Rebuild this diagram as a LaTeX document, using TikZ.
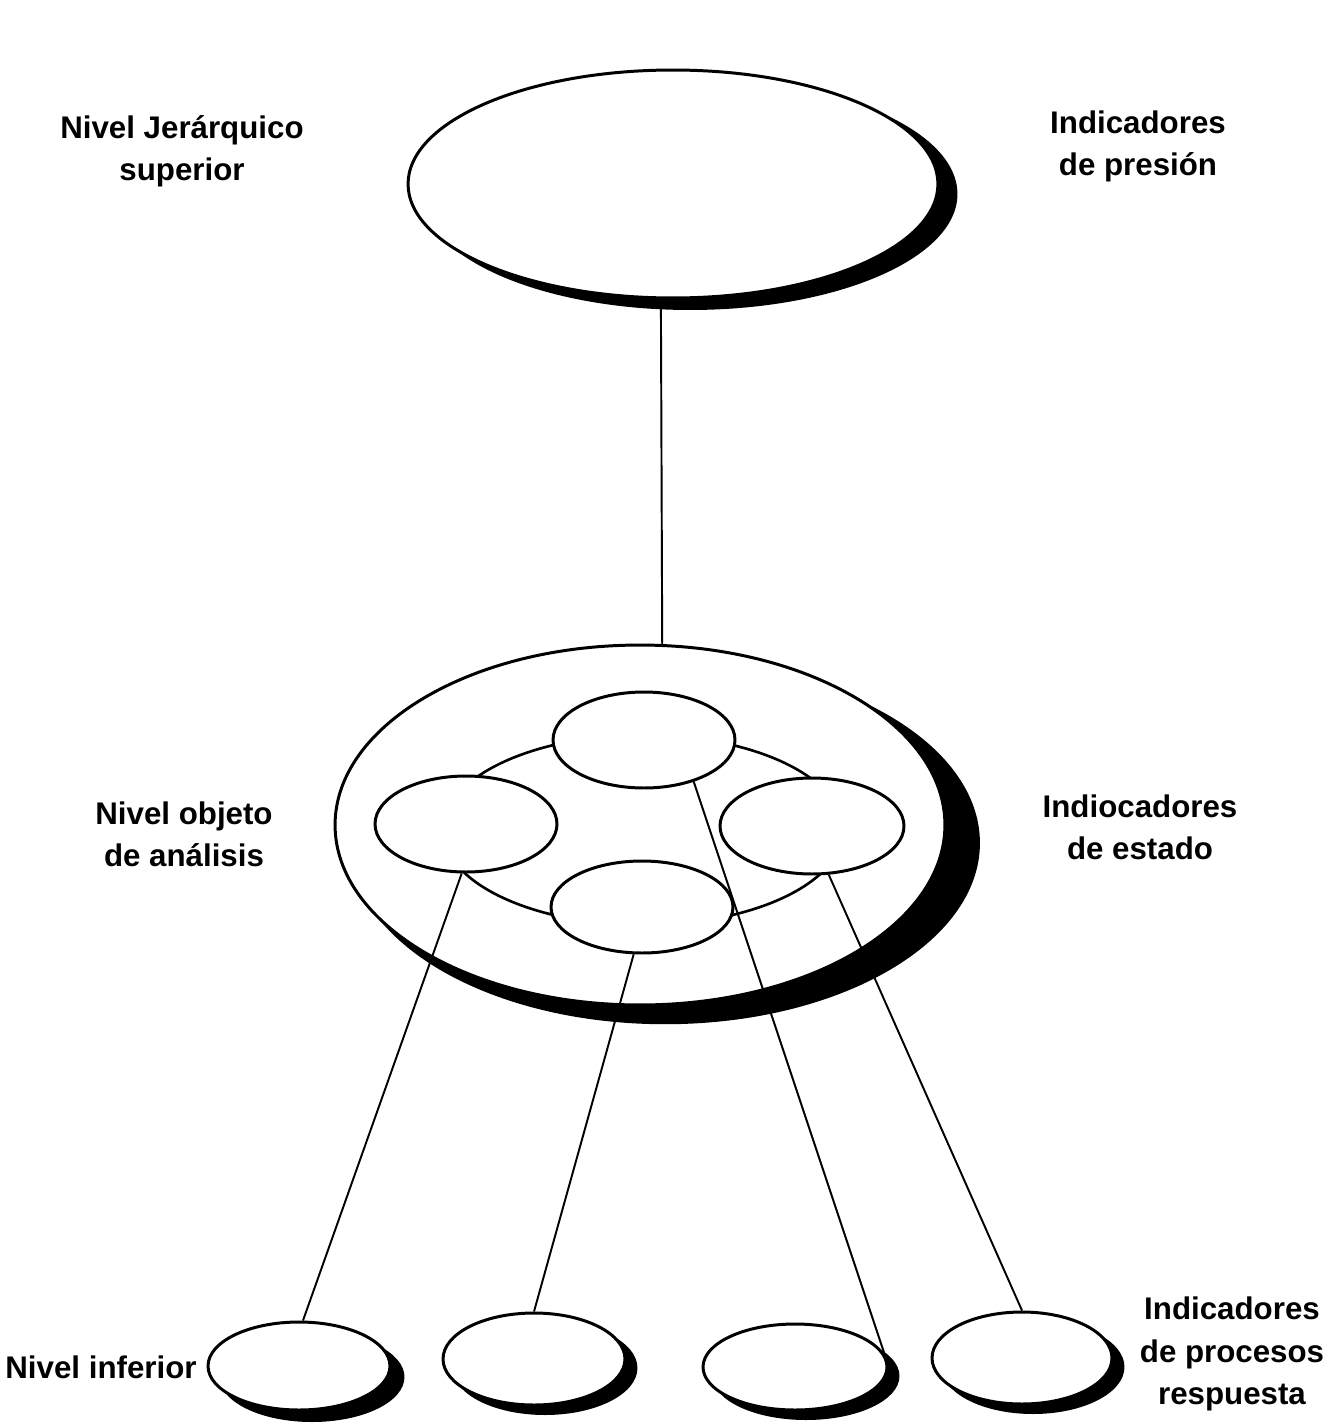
\documentclass[tikz,border=0pt]{standalone}
\usepackage{fontspec}
\setmainfont{Liberation Sans}
\usetikzlibrary{shapes.geometric}
\begin{document}
\begin{tikzpicture}[x=0.02cm,y=-0.02cm,
  ell/.style={ellipse, draw=black, line width=1.7pt, fill=white, inner sep=0pt},
  shd/.style={ellipse, fill=black, draw=none, inner sep=0pt},
  ring/.style={ellipse, draw=black, line width=1.5pt, inner sep=0pt},
  conn/.style={line width=1.1pt},
  lab/.style={font=\bfseries\fontsize{17.8}{24}\selectfont, align=center, inner sep=0pt}]
\useasboundingbox (0,0) rectangle (1336,1423);

% top level
\node[shd, minimum width=10.7cm, minimum height=4.64cm] (topS) at (690,194) {};
\node[ell, minimum width=10.6cm, minimum height=4.56cm] (topE) at (673,184) {};

% middle level
\node[shd, minimum width=12.6cm, minimum height=7.25cm] (midS) at (665,843) {};
\node[ell, minimum width=12.2cm, minimum height=7.2cm] (midE) at (640,825) {};
\node[ring, minimum width=8cm, minimum height=3.8cm] (ringE) at (643,830) {};
\node[ell, minimum width=3.64cm, minimum height=1.92cm] (sT) at (644,740) {};
\node[ell, minimum width=3.64cm, minimum height=1.92cm] (sL) at (466,824) {};
\node[ell, minimum width=3.68cm, minimum height=1.92cm] (sR) at (812,826) {};
\node[ell, minimum width=3.64cm, minimum height=1.84cm] (sB) at (642,907) {};

% bottom level
\node[shd, minimum width=3.7cm, minimum height=1.8cm] (b1S) at (312,1377) {};
\node[ell, minimum width=3.64cm, minimum height=1.76cm] (b1) at (299,1366) {};
\node[shd, minimum width=3.7cm, minimum height=1.88cm] (b2S) at (545,1368) {};
\node[ell, minimum width=3.64cm, minimum height=1.84cm] (b2) at (534,1359) {};
\node[shd, minimum width=3.74cm, minimum height=1.76cm] (b3S) at (806,1376) {};
\node[ell, minimum width=3.68cm, minimum height=1.72cm] (b3) at (795,1367) {};
\node[shd, minimum width=3.66cm, minimum height=1.88cm] (b4S) at (1033,1367) {};
\node[ell, minimum width=3.6cm, minimum height=1.84cm] (b4) at (1022,1358) {};

% connectors
\draw[conn] (topE.-96) -- (midE.83);
\draw[conn] (sL.-95) -- (b1.85);
\draw[conn] (sB.-100) -- (b2.north);
\draw[conn] (sT.-40) -- (b3.8);
\draw[conn] (sR.-71) -- (b4.north);

% labels
\node[lab] (l1) at (182,151) {Nivel Jerárquico\\superior};
\node[lab] (l2) at (1138,146) {Indicadores\\de presión};
\node[lab] (l3) at (184,834) {Nivel objeto\\de análisis};
\node[lab] (l4) at (1140,827) {Indiocadores\\de estado};
\node[lab] (l5) at (101,1367) {Nivel inferior};
\node[lab] (l6) at (1232,1354) {Indicadores\\de procesos\\respuesta};
\end{tikzpicture}
\end{document}
